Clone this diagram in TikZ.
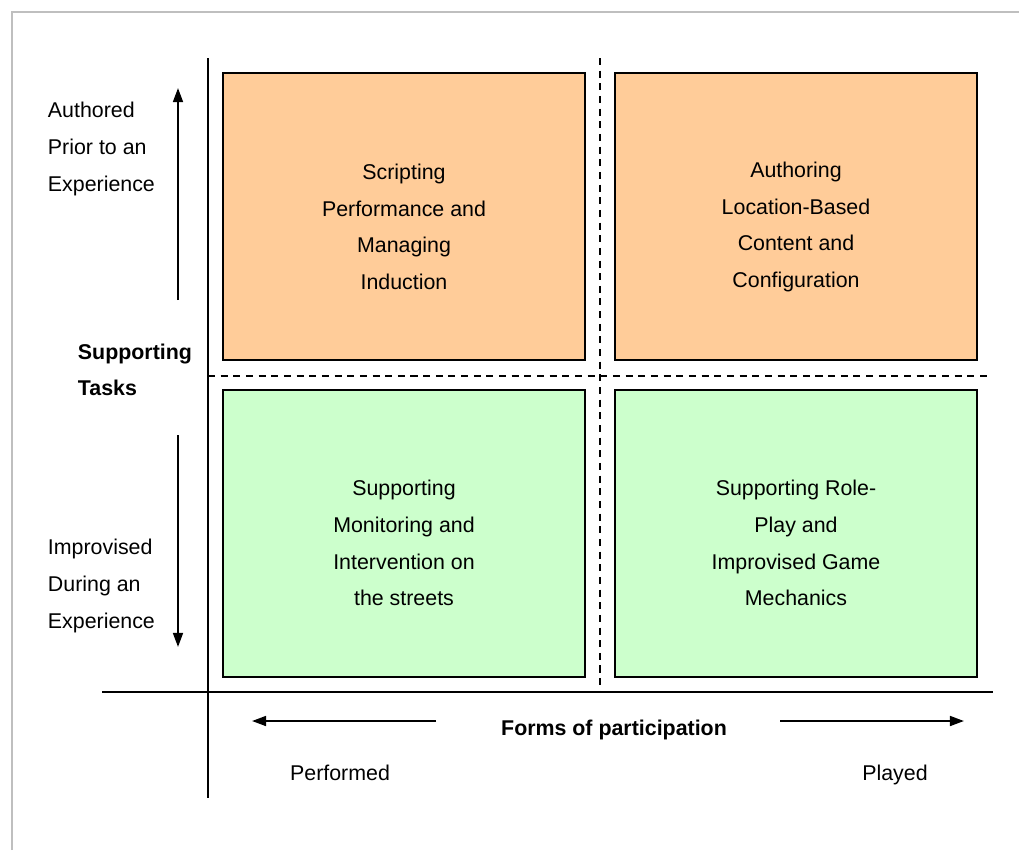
\documentclass[tikz,border=0pt]{standalone}
\usepackage{fontspec}
\setmainfont{Liberation Sans}
\usetikzlibrary{positioning}
\usetikzlibrary{arrows.meta}

\begin{document}
\begin{tikzpicture}
            [x=0.025cm, y=-0.025cm,
            frame/.style={line width=1pt, black!25},
            axis/.style={line width=1.3pt},
            divider/.style={line width=1.1pt, dash pattern=on 5pt off 4pt},
            quad/.style={draw, line width=1.1pt, minimum width=362*0.025cm, minimum height=287*0.025cm, inner sep=0pt},
            quadtext/.style={align=center, font=\fontsize{15.2}{26}\selectfont},
            sidetext/.style={align=left, anchor=west, font=\fontsize{15.2}{26.5}\selectfont},
            axislabel/.style={font=\fontsize{15.2}{26}\selectfont, text height=1.5ex, text depth=0.4ex},
            pointer/.style={line width=1.5pt, -{Triangle[length=10pt, width=7pt]}},
            ]
            \definecolor{prepcolor}{HTML}{FFCC99}
            \definecolor{livecolor}{HTML}{CCFFCC}
            \useasboundingbox (0,0) rectangle (1019,850);

            % page frame
            \draw[frame] (12,850) -- (12,12) -- (1019,12);

            % the four quadrants
            \node[quad, fill=prepcolor] (tl) at (404,216.5) {};
            \node[quad, fill=prepcolor] (tr) at (796,216.5) {};
            \node[quad, fill=livecolor] (bl) at (404,533.5) {};
            \node[quad, fill=livecolor] (br) at (796,533.5) {};

            \node[quadtext] (tltext) at ([yshift=-0.26cm]tl.center) {Scripting\\Performance and\\Managing\\Induction};
            \node[quadtext] (trtext) at ([yshift=-0.26cm]tr.center) {Authoring\\Location-Based\\Content and\\Configuration};
            \node[quadtext] (bltext) at ([yshift=-0.24cm]bl.center) {Supporting\\Monitoring and\\Intervention on\\the streets};
            \node[quadtext] (brtext) at ([yshift=-0.24cm]br.center) {Supporting Role-\\Play and\\Improvised Game\\Mechanics};

            % axes and dividers
            \coordinate (vtop) at (208,58);
            \coordinate (vbot) at (208,798);
            \coordinate (hleft) at (102,692);
            \coordinate (hright) at (993,692);
            \coordinate (dtop) at (600,58);
            \coordinate (dbot) at (600,692);
            \coordinate (dleft) at (208,376);
            \coordinate (dright) at (988,376);
            \draw[axis] (vtop) -- (vbot);
            \draw[axis] (hleft) -- (hright);
            \draw[divider] (dtop) -- (dbot);
            \draw[divider] (dleft) -- (dright);

            % vertical axis labels
            \node[sidetext] (authored) at (43,149) {Authored\\Prior to an\\Experience};
            \node[sidetext] (improvised) at (43,586) {Improvised\\During an\\Experience};
            \node[sidetext, font=\fontsize{15.2}{26}\bfseries] (tasks) at (73,370) {Supporting\\Tasks};
            \coordinate (upstart) at (178,300);
            \coordinate (upend) at (178,88);
            \coordinate (downstart) at (178,435);
            \coordinate (downend) at (178,647);
            \draw[pointer] (upstart) -- (upend);
            \draw[pointer] (downstart) -- (downend);

            % horizontal axis labels
            \node[axislabel, font=\fontsize{15.2}{26}\bfseries] (forms) at (614,731) {Forms of participation};
            \node[axislabel] (performed) at (340,776) {Performed};
            \node[axislabel] (played) at (895,776) {Played};
            \coordinate (leftstart) at (436,721);
            \coordinate (leftend) at (252,721);
            \coordinate (rightstart) at (780,721);
            \coordinate (rightend) at (964,721);
            \draw[pointer] (leftstart) -- (leftend);
            \draw[pointer] (rightstart) -- (rightend);
        \end{tikzpicture}
\end{document}
